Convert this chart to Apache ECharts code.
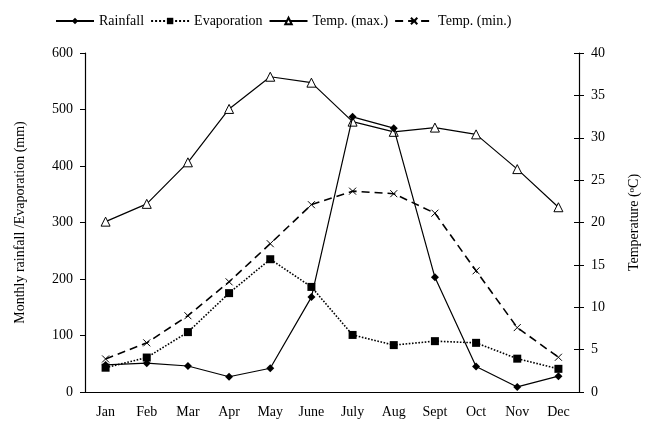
<!DOCTYPE html>
<html>
<head>
<meta charset="utf-8">
<script src="https://cdn.jsdelivr.net/npm/echarts@6/dist/echarts.min.js"></script>
<style>
  html, body { margin: 0; padding: 0; background: #fff; }
  #chart { width: 649px; height: 422px; }
</style>
</head>
<body>
<div id="chart"></div>
<script>
// monthly values
var months = ['Jan', 'Feb', 'Mar', 'Apr', 'May', 'June', 'July', 'Aug', 'Sept', 'Oct', 'Nov', 'Dec'];
var rainfall = [48, 51, 46, 27, 42, 168, 487, 467, 203, 45, 9, 28];
var evaporation = [43, 61, 106, 175, 235, 186, 101, 83, 90, 87, 59, 41];
var tempMax = [20.1, 22.2, 27.1, 33.4, 37.2, 36.5, 31.9, 30.7, 31.2, 30.4, 26.3, 21.8];
var tempMin = [3.9, 5.8, 9.0, 13.0, 17.5, 22.1, 23.7, 23.4, 21.1, 14.3, 7.6, 4.1];

var serif = 'Liberation Serif';
var crossPath = 'path://M0,0L10,10M10,0L0,10';

var chart = echarts.init(document.getElementById('chart'));

chart.setOption({
  animation: false,
  textStyle: { fontFamily: serif, color: '#000' },
  legend: {
    top: 9,
    left: 50,
    itemWidth: 38,
    itemHeight: 8,
    itemGap: 6,
    textStyle: { fontFamily: serif, fontSize: 14, color: '#000' },
    data: ['Rainfall', 'Evaporation', 'Temp. (max.)', 'Temp. (min.)']
  },
  grid: { left: 85, right: 69, top: 53, bottom: 30 },
  xAxis: {
    type: 'category',
    data: months,
    boundaryGap: true,
    axisLine: { lineStyle: { color: '#000', width: 1.2 } },
    axisTick: { inside: true, length: 5, lineStyle: { color: '#000' } },
    axisLabel: { fontFamily: serif, fontSize: 14, color: '#000', margin: 13 }
  },
  yAxis: [{
    type: 'value',
    min: 0, max: 600, interval: 100,
    position: 'left',
    name: 'Monthly rainfall /Evaporation (mm)',
    nameLocation: 'middle',
    nameGap: 58,
    nameTextStyle: { fontFamily: serif, fontSize: 14, color: '#000' },
    axisLine: { show: true, lineStyle: { color: '#000', width: 1.2 } },
    axisTick: { show: true, length: 5, lineStyle: { color: '#000' } },
    axisLabel: { fontFamily: serif, fontSize: 14, color: '#000', margin: 12 },
    splitLine: { show: false }
  }, {
    type: 'value',
    min: 0, max: 40, interval: 5,
    position: 'right',
    name: 'Temperature ({sup|o}C)',
    nameLocation: 'middle',
    nameGap: 48,
    nameRotate: 90,
    nameTextStyle: {
      fontFamily: serif, fontSize: 14, color: '#000',
      rich: { sup: { fontFamily: serif, fontSize: 9, color: '#000', verticalAlign: 'top', lineHeight: 10 } }
    },
    axisLine: { show: true, lineStyle: { color: '#000', width: 1.2 } },
    axisTick: { show: true, length: 5, lineStyle: { color: '#000' } },
    axisLabel: { fontFamily: serif, fontSize: 14, color: '#000', margin: 12 },
    splitLine: { show: false }
  }, {
    // inner half of the right-hand ticks
    type: 'value',
    min: 0, max: 40, interval: 5,
    position: 'right',
    axisLine: { show: false },
    axisTick: { show: true, inside: true, length: 5, lineStyle: { color: '#000' } },
    axisLabel: { show: false },
    splitLine: { show: false }
  }],
  series: [{
    name: 'Rainfall',
    type: 'line',
    yAxisIndex: 0,
    data: rainfall,
    symbol: 'diamond',
    symbolSize: 8,
    itemStyle: { color: '#000' },
    lineStyle: { color: '#000', width: 1.2 },
    z: 4
  }, {
    name: 'Evaporation',
    type: 'line',
    yAxisIndex: 0,
    data: evaporation,
    symbol: 'rect',
    symbolSize: 8,
    itemStyle: { color: '#000' },
    lineStyle: { color: '#000', width: 1.6, type: 'dotted' },
    z: 3
  }, {
    name: 'Temp. (max.)',
    type: 'line',
    yAxisIndex: 1,
    data: tempMax,
    symbol: 'triangle',
    symbolSize: 9,
    itemStyle: { color: '#fff', borderColor: '#000', borderWidth: 1 },
    lineStyle: { color: '#000', width: 1.2 },
    z: 2
  }, {
    name: 'Temp. (min.)',
    type: 'line',
    yAxisIndex: 1,
    data: tempMin,
    symbol: crossPath,
    symbolSize: 7,
    itemStyle: { color: '#000', borderColor: '#000', borderWidth: 1 },
    lineStyle: { color: '#000', width: 1.6, type: [8, 5] },
    z: 2
  }]
});
</script>
</body>
</html>
